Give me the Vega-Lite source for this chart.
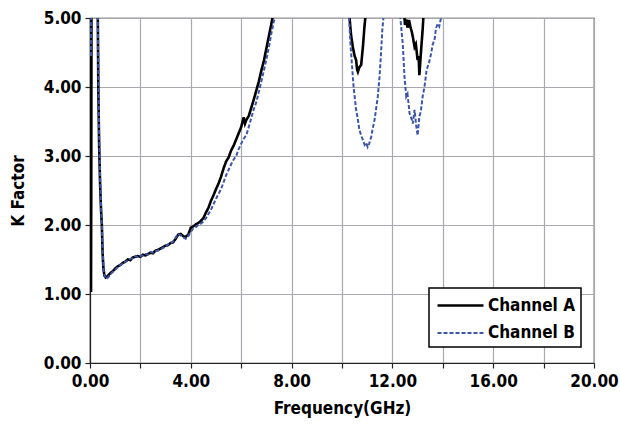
{
  "$schema": "https://vega.github.io/schema/vega-lite/v6.json",
  "width": 504,
  "height": 345,
  "autosize": {"type": "none"},
  "padding": {"left": 90, "top": 18, "right": 26, "bottom": 65},
  "background": "white",
  "config": {
    "font": "DejaVu Sans Condensed",
    "view": {"stroke": "#222", "strokeWidth": 1.2},
    "axis": {
      "labelFont": "DejaVu Sans Condensed", "labelFontSize": 17, "labelFontWeight": "bold", "labelColor": "black",
      "titleFont": "DejaVu Sans Condensed", "titleFontSize": 17, "titleFontWeight": "bold", "titleColor": "black",
      "gridColor": "#a8a8ae", "gridWidth": 1.2, "domainColor": "#222", "domainWidth": 1.2,
      "tickColor": "#222", "tickSize": 5, "tickWidth": 1.2
    },
    "legend": {
      "orient": "none", "legendX": 339, "legendY": 270,
      "strokeColor": "black", "strokeWidth": 1.5, "fillColor": "white", "padding": 6,
      "labelFont": "DejaVu Sans Condensed", "labelFontSize": 17, "labelFontWeight": "bold", "labelColor": "black",
      "symbolType": "M-2.3,0H2.3", "symbolSize": 400, "symbolOffset": 14, "rowPadding": 8, "labelOffset": 16, "symbolStrokeWidth": 2.5
    }
  },
  "data": {
    "values": [
      {"f": 0.04, "k": 1.03, "ch": "Channel A"},
      {"f": 0.05, "k": 2.5, "ch": "Channel A"},
      {"f": 0.06, "k": 5.5, "ch": "Channel A"},
      {"f": 0.2, "k": 7, "ch": "Channel A"},
      {"f": 0.3, "k": 5.5, "ch": "Channel A"},
      {"f": 0.31, "k": 5.0, "ch": "Channel A"},
      {"f": 0.33, "k": 4.0, "ch": "Channel A"},
      {"f": 0.36, "k": 3.2, "ch": "Channel A"},
      {"f": 0.4, "k": 2.6, "ch": "Channel A"},
      {"f": 0.44, "k": 2.2, "ch": "Channel A"},
      {"f": 0.47, "k": 2.0, "ch": "Channel A"},
      {"f": 0.5, "k": 1.6, "ch": "Channel A"},
      {"f": 0.53, "k": 1.38, "ch": "Channel A"},
      {"f": 0.57, "k": 1.27, "ch": "Channel A"},
      {"f": 0.62, "k": 1.24, "ch": "Channel A"},
      {"f": 0.7, "k": 1.26, "ch": "Channel A"},
      {"f": 0.8, "k": 1.3, "ch": "Channel A"},
      {"f": 0.9, "k": 1.33, "ch": "Channel A"},
      {"f": 1.0, "k": 1.37, "ch": "Channel A"},
      {"f": 1.1, "k": 1.4, "ch": "Channel A"},
      {"f": 1.2, "k": 1.42, "ch": "Channel A"},
      {"f": 1.3, "k": 1.45, "ch": "Channel A"},
      {"f": 1.4, "k": 1.47, "ch": "Channel A"},
      {"f": 1.5, "k": 1.5, "ch": "Channel A"},
      {"f": 1.6, "k": 1.49, "ch": "Channel A"},
      {"f": 1.7, "k": 1.53, "ch": "Channel A"},
      {"f": 1.8, "k": 1.54, "ch": "Channel A"},
      {"f": 1.9, "k": 1.55, "ch": "Channel A"},
      {"f": 2.0, "k": 1.54, "ch": "Channel A"},
      {"f": 2.1, "k": 1.57, "ch": "Channel A"},
      {"f": 2.2, "k": 1.56, "ch": "Channel A"},
      {"f": 2.3, "k": 1.58, "ch": "Channel A"},
      {"f": 2.4, "k": 1.6, "ch": "Channel A"},
      {"f": 2.5, "k": 1.59, "ch": "Channel A"},
      {"f": 2.6, "k": 1.63, "ch": "Channel A"},
      {"f": 2.7, "k": 1.64, "ch": "Channel A"},
      {"f": 2.8, "k": 1.66, "ch": "Channel A"},
      {"f": 2.9, "k": 1.68, "ch": "Channel A"},
      {"f": 3.0, "k": 1.7, "ch": "Channel A"},
      {"f": 3.1, "k": 1.71, "ch": "Channel A"},
      {"f": 3.2, "k": 1.74, "ch": "Channel A"},
      {"f": 3.3, "k": 1.75, "ch": "Channel A"},
      {"f": 3.4, "k": 1.8, "ch": "Channel A"},
      {"f": 3.5, "k": 1.86, "ch": "Channel A"},
      {"f": 3.6, "k": 1.87, "ch": "Channel A"},
      {"f": 3.7, "k": 1.84, "ch": "Channel A"},
      {"f": 3.8, "k": 1.83, "ch": "Channel A"},
      {"f": 3.9, "k": 1.86, "ch": "Channel A"},
      {"f": 4.0, "k": 1.96, "ch": "Channel A"},
      {"f": 4.1, "k": 1.98, "ch": "Channel A"},
      {"f": 4.2, "k": 2.01, "ch": "Channel A"},
      {"f": 4.3, "k": 2.03, "ch": "Channel A"},
      {"f": 4.4, "k": 2.06, "ch": "Channel A"},
      {"f": 4.5, "k": 2.1, "ch": "Channel A"},
      {"f": 4.6, "k": 2.18, "ch": "Channel A"},
      {"f": 4.7, "k": 2.25, "ch": "Channel A"},
      {"f": 4.8, "k": 2.35, "ch": "Channel A"},
      {"f": 4.9, "k": 2.43, "ch": "Channel A"},
      {"f": 5.0, "k": 2.52, "ch": "Channel A"},
      {"f": 5.1, "k": 2.6, "ch": "Channel A"},
      {"f": 5.2, "k": 2.7, "ch": "Channel A"},
      {"f": 5.3, "k": 2.82, "ch": "Channel A"},
      {"f": 5.4, "k": 2.92, "ch": "Channel A"},
      {"f": 5.5, "k": 2.98, "ch": "Channel A"},
      {"f": 5.6, "k": 3.08, "ch": "Channel A"},
      {"f": 5.7, "k": 3.15, "ch": "Channel A"},
      {"f": 5.8, "k": 3.24, "ch": "Channel A"},
      {"f": 5.9, "k": 3.33, "ch": "Channel A"},
      {"f": 6.0, "k": 3.42, "ch": "Channel A"},
      {"f": 6.1, "k": 3.56, "ch": "Channel A"},
      {"f": 6.15, "k": 3.47, "ch": "Channel A"},
      {"f": 6.2, "k": 3.52, "ch": "Channel A"},
      {"f": 6.3, "k": 3.58, "ch": "Channel A"},
      {"f": 6.4, "k": 3.7, "ch": "Channel A"},
      {"f": 6.5, "k": 3.82, "ch": "Channel A"},
      {"f": 6.6, "k": 3.95, "ch": "Channel A"},
      {"f": 6.7, "k": 4.08, "ch": "Channel A"},
      {"f": 6.8, "k": 4.24, "ch": "Channel A"},
      {"f": 6.9, "k": 4.38, "ch": "Channel A"},
      {"f": 7.0, "k": 4.56, "ch": "Channel A"},
      {"f": 7.1, "k": 4.74, "ch": "Channel A"},
      {"f": 7.2, "k": 4.92, "ch": "Channel A"},
      {"f": 7.25, "k": 5.02, "ch": "Channel A"},
      {"f": 7.4, "k": 5.4, "ch": "Channel A"},
      {"f": 8.5, "k": 8, "ch": "Channel A"},
      {"f": 10.2, "k": 5.5, "ch": "Channel A"},
      {"f": 10.3, "k": 5.0, "ch": "Channel A"},
      {"f": 10.36, "k": 4.75, "ch": "Channel A"},
      {"f": 10.43, "k": 4.58, "ch": "Channel A"},
      {"f": 10.5, "k": 4.45, "ch": "Channel A"},
      {"f": 10.56, "k": 4.39, "ch": "Channel A"},
      {"f": 10.6, "k": 4.25, "ch": "Channel A"},
      {"f": 10.63, "k": 4.22, "ch": "Channel A"},
      {"f": 10.68, "k": 4.28, "ch": "Channel A"},
      {"f": 10.76, "k": 4.32, "ch": "Channel A"},
      {"f": 10.83, "k": 4.58, "ch": "Channel A"},
      {"f": 10.89, "k": 4.87, "ch": "Channel A"},
      {"f": 10.93, "k": 5.02, "ch": "Channel A"},
      {"f": 11.5, "k": 8, "ch": "Channel A"},
      {"f": 12.46, "k": 5.1, "ch": "Channel A"},
      {"f": 12.5, "k": 4.9, "ch": "Channel A"},
      {"f": 12.55, "k": 4.98, "ch": "Channel A"},
      {"f": 12.6, "k": 4.86, "ch": "Channel A"},
      {"f": 12.66, "k": 4.97, "ch": "Channel A"},
      {"f": 12.72, "k": 4.86, "ch": "Channel A"},
      {"f": 12.77, "k": 4.8, "ch": "Channel A"},
      {"f": 12.81, "k": 4.73, "ch": "Channel A"},
      {"f": 12.88, "k": 4.58, "ch": "Channel A"},
      {"f": 12.93, "k": 4.62, "ch": "Channel A"},
      {"f": 13.0, "k": 4.39, "ch": "Channel A"},
      {"f": 13.04, "k": 4.45, "ch": "Channel A"},
      {"f": 13.07, "k": 4.17, "ch": "Channel A"},
      {"f": 13.14, "k": 4.54, "ch": "Channel A"},
      {"f": 13.2, "k": 4.83, "ch": "Channel A"},
      {"f": 13.23, "k": 5.02, "ch": "Channel A"},
      {"f": 13.6, "k": 7, "ch": "Channel A"},

      {"f": 0.04, "k": 4.45, "ch": "Channel B"},
      {"f": 0.05, "k": 5.5, "ch": "Channel B"},
      {"f": 0.2, "k": 7, "ch": "Channel B"},
      {"f": 0.29, "k": 5.5, "ch": "Channel B"},
      {"f": 0.31, "k": 5.0, "ch": "Channel B"},
      {"f": 0.33, "k": 4.3, "ch": "Channel B"},
      {"f": 0.36, "k": 3.4, "ch": "Channel B"},
      {"f": 0.4, "k": 2.7, "ch": "Channel B"},
      {"f": 0.44, "k": 2.25, "ch": "Channel B"},
      {"f": 0.47, "k": 2.0, "ch": "Channel B"},
      {"f": 0.5, "k": 1.62, "ch": "Channel B"},
      {"f": 0.54, "k": 1.36, "ch": "Channel B"},
      {"f": 0.58, "k": 1.26, "ch": "Channel B"},
      {"f": 0.64, "k": 1.22, "ch": "Channel B"},
      {"f": 0.72, "k": 1.24, "ch": "Channel B"},
      {"f": 0.8, "k": 1.28, "ch": "Channel B"},
      {"f": 0.9, "k": 1.32, "ch": "Channel B"},
      {"f": 1.0, "k": 1.35, "ch": "Channel B"},
      {"f": 1.1, "k": 1.39, "ch": "Channel B"},
      {"f": 1.2, "k": 1.42, "ch": "Channel B"},
      {"f": 1.3, "k": 1.44, "ch": "Channel B"},
      {"f": 1.4, "k": 1.47, "ch": "Channel B"},
      {"f": 1.5, "k": 1.48, "ch": "Channel B"},
      {"f": 1.6, "k": 1.51, "ch": "Channel B"},
      {"f": 1.7, "k": 1.52, "ch": "Channel B"},
      {"f": 1.8, "k": 1.55, "ch": "Channel B"},
      {"f": 1.9, "k": 1.53, "ch": "Channel B"},
      {"f": 2.0, "k": 1.55, "ch": "Channel B"},
      {"f": 2.1, "k": 1.56, "ch": "Channel B"},
      {"f": 2.2, "k": 1.58, "ch": "Channel B"},
      {"f": 2.3, "k": 1.57, "ch": "Channel B"},
      {"f": 2.4, "k": 1.61, "ch": "Channel B"},
      {"f": 2.5, "k": 1.6, "ch": "Channel B"},
      {"f": 2.6, "k": 1.62, "ch": "Channel B"},
      {"f": 2.7, "k": 1.63, "ch": "Channel B"},
      {"f": 2.8, "k": 1.65, "ch": "Channel B"},
      {"f": 2.9, "k": 1.67, "ch": "Channel B"},
      {"f": 3.0, "k": 1.68, "ch": "Channel B"},
      {"f": 3.1, "k": 1.72, "ch": "Channel B"},
      {"f": 3.2, "k": 1.73, "ch": "Channel B"},
      {"f": 3.3, "k": 1.76, "ch": "Channel B"},
      {"f": 3.4, "k": 1.82, "ch": "Channel B"},
      {"f": 3.5, "k": 1.87, "ch": "Channel B"},
      {"f": 3.6, "k": 1.85, "ch": "Channel B"},
      {"f": 3.7, "k": 1.82, "ch": "Channel B"},
      {"f": 3.8, "k": 1.8, "ch": "Channel B"},
      {"f": 3.9, "k": 1.84, "ch": "Channel B"},
      {"f": 4.0, "k": 1.9, "ch": "Channel B"},
      {"f": 4.1, "k": 1.95, "ch": "Channel B"},
      {"f": 4.2, "k": 1.97, "ch": "Channel B"},
      {"f": 4.3, "k": 2.0, "ch": "Channel B"},
      {"f": 4.4, "k": 2.02, "ch": "Channel B"},
      {"f": 4.5, "k": 2.05, "ch": "Channel B"},
      {"f": 4.6, "k": 2.1, "ch": "Channel B"},
      {"f": 4.7, "k": 2.16, "ch": "Channel B"},
      {"f": 4.8, "k": 2.22, "ch": "Channel B"},
      {"f": 4.9, "k": 2.3, "ch": "Channel B"},
      {"f": 5.0, "k": 2.38, "ch": "Channel B"},
      {"f": 5.1, "k": 2.45, "ch": "Channel B"},
      {"f": 5.2, "k": 2.52, "ch": "Channel B"},
      {"f": 5.3, "k": 2.62, "ch": "Channel B"},
      {"f": 5.4, "k": 2.72, "ch": "Channel B"},
      {"f": 5.5, "k": 2.8, "ch": "Channel B"},
      {"f": 5.6, "k": 2.88, "ch": "Channel B"},
      {"f": 5.7, "k": 2.95, "ch": "Channel B"},
      {"f": 5.8, "k": 3.0, "ch": "Channel B"},
      {"f": 5.9, "k": 3.1, "ch": "Channel B"},
      {"f": 6.0, "k": 3.18, "ch": "Channel B"},
      {"f": 6.1, "k": 3.25, "ch": "Channel B"},
      {"f": 6.2, "k": 3.3, "ch": "Channel B"},
      {"f": 6.3, "k": 3.42, "ch": "Channel B"},
      {"f": 6.4, "k": 3.55, "ch": "Channel B"},
      {"f": 6.5, "k": 3.68, "ch": "Channel B"},
      {"f": 6.6, "k": 3.78, "ch": "Channel B"},
      {"f": 6.7, "k": 3.93, "ch": "Channel B"},
      {"f": 6.8, "k": 4.08, "ch": "Channel B"},
      {"f": 6.9, "k": 4.24, "ch": "Channel B"},
      {"f": 7.0, "k": 4.4, "ch": "Channel B"},
      {"f": 7.1, "k": 4.58, "ch": "Channel B"},
      {"f": 7.2, "k": 4.78, "ch": "Channel B"},
      {"f": 7.3, "k": 4.96, "ch": "Channel B"},
      {"f": 7.35, "k": 5.05, "ch": "Channel B"},
      {"f": 8.5, "k": 8, "ch": "Channel B"},
      {"f": 10.2, "k": 5.3, "ch": "Channel B"},
      {"f": 10.28, "k": 5.0, "ch": "Channel B"},
      {"f": 10.34, "k": 4.6, "ch": "Channel B"},
      {"f": 10.4, "k": 4.3, "ch": "Channel B"},
      {"f": 10.46, "k": 4.0, "ch": "Channel B"},
      {"f": 10.56, "k": 3.67, "ch": "Channel B"},
      {"f": 10.62, "k": 3.55, "ch": "Channel B"},
      {"f": 10.69, "k": 3.38, "ch": "Channel B"},
      {"f": 10.76, "k": 3.3, "ch": "Channel B"},
      {"f": 10.83, "k": 3.23, "ch": "Channel B"},
      {"f": 10.9, "k": 3.16, "ch": "Channel B"},
      {"f": 10.96, "k": 3.19, "ch": "Channel B"},
      {"f": 11.02, "k": 3.13, "ch": "Channel B"},
      {"f": 11.08, "k": 3.18, "ch": "Channel B"},
      {"f": 11.16, "k": 3.28, "ch": "Channel B"},
      {"f": 11.22, "k": 3.4, "ch": "Channel B"},
      {"f": 11.29, "k": 3.52, "ch": "Channel B"},
      {"f": 11.36, "k": 3.7, "ch": "Channel B"},
      {"f": 11.42, "k": 3.86, "ch": "Channel B"},
      {"f": 11.49, "k": 4.15, "ch": "Channel B"},
      {"f": 11.55, "k": 4.5, "ch": "Channel B"},
      {"f": 11.6, "k": 4.83, "ch": "Channel B"},
      {"f": 11.65, "k": 5.02, "ch": "Channel B"},
      {"f": 12.0, "k": 7, "ch": "Channel B"},
      {"f": 12.3, "k": 5.1, "ch": "Channel B"},
      {"f": 12.34, "k": 4.9, "ch": "Channel B"},
      {"f": 12.41, "k": 4.63, "ch": "Channel B"},
      {"f": 12.48, "k": 4.15, "ch": "Channel B"},
      {"f": 12.55, "k": 3.86, "ch": "Channel B"},
      {"f": 12.6, "k": 3.9, "ch": "Channel B"},
      {"f": 12.68, "k": 3.62, "ch": "Channel B"},
      {"f": 12.75, "k": 3.55, "ch": "Channel B"},
      {"f": 12.81, "k": 3.47, "ch": "Channel B"},
      {"f": 12.88, "k": 3.67, "ch": "Channel B"},
      {"f": 12.94, "k": 3.45, "ch": "Channel B"},
      {"f": 13.0, "k": 3.3, "ch": "Channel B"},
      {"f": 13.07, "k": 3.57, "ch": "Channel B"},
      {"f": 13.13, "k": 3.65, "ch": "Channel B"},
      {"f": 13.2, "k": 3.86, "ch": "Channel B"},
      {"f": 13.28, "k": 4.02, "ch": "Channel B"},
      {"f": 13.36, "k": 4.25, "ch": "Channel B"},
      {"f": 13.45, "k": 4.35, "ch": "Channel B"},
      {"f": 13.54, "k": 4.49, "ch": "Channel B"},
      {"f": 13.6, "k": 4.62, "ch": "Channel B"},
      {"f": 13.67, "k": 4.68, "ch": "Channel B"},
      {"f": 13.73, "k": 4.85, "ch": "Channel B"},
      {"f": 13.8, "k": 4.92, "ch": "Channel B"},
      {"f": 13.86, "k": 4.88, "ch": "Channel B"},
      {"f": 13.94, "k": 5.02, "ch": "Channel B"},
      {"f": 14.3, "k": 7, "ch": "Channel B"}
    ]
  },
  "mark": {"type": "line", "clip": true},
  "encoding": {
    "x": {
      "field": "f", "type": "quantitative",
      "scale": {"domain": [0, 20], "nice": false, "zero": false},
      "axis": {
        "title": "Frequency(GHz)", "values": [0, 2, 4, 6, 8, 10, 12, 14, 16, 18, 20],
        "labelExpr": "datum.value % 4 == 0 ? format(datum.value, '.2f') : ''",
        "labelPadding": 5, "titlePadding": 11, "labelFlush": false
      }
    },
    "y": {
      "field": "k", "type": "quantitative",
      "scale": {"domain": [0, 5], "nice": false, "zero": false},
      "axis": {
        "title": "K Factor", "values": [0, 1, 2, 3, 4, 5], "format": ".2f",
        "labelPadding": 4, "titlePadding": 16, "labelFlush": false
      }
    },
    "color": {
      "field": "ch", "type": "nominal", "title": null,
      "scale": {"domain": ["Channel A", "Channel B"], "range": ["#000000", "#3a56a8"]}
    },
    "strokeDash": {
      "field": "ch", "type": "nominal", "title": null,
      "scale": {"domain": ["Channel A", "Channel B"], "range": [[1, 0], [4, 2]]}
    },
    "strokeWidth": {
      "field": "ch", "type": "nominal", "title": null,
      "scale": {"domain": ["Channel A", "Channel B"], "range": [2.6, 2]}
    }
  }
}
